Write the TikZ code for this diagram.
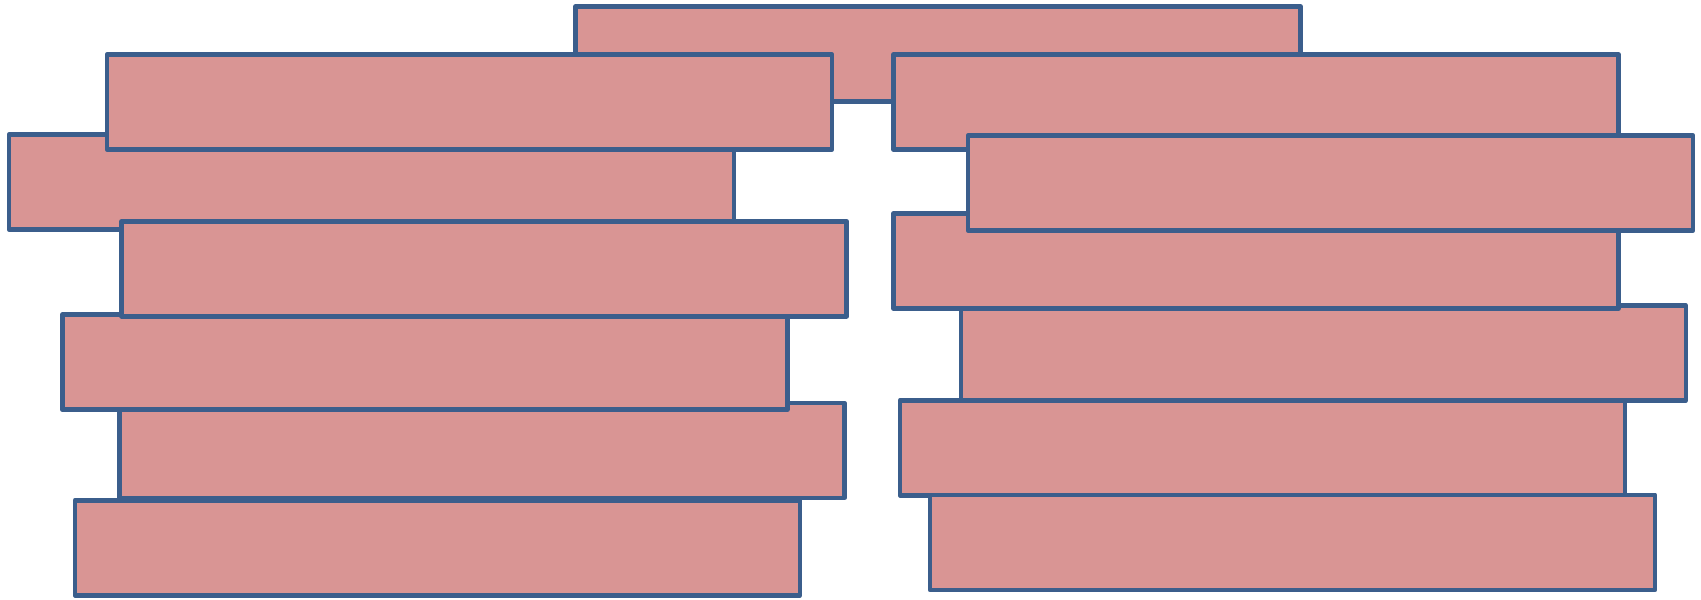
\documentclass[tikz,border=0pt]{standalone}
\begin{document}
\begin{tikzpicture}[x=1pt,y=-1pt,
  bar/.style={draw=barline, fill=barfill, line width=4.6pt, line join=round,
    rectangle, inner sep=0pt, minimum width=725pt, minimum height=95pt}]
\definecolor{barfill}{HTML}{D99594}
\definecolor{barline}{HTML}{3B5E8C}
\useasboundingbox (0,0) rectangle (1701,600);
\node[bar] (tc) at (938,54) {};
\node[bar] (l2) at (371.4,182) {};
\node[bar] (l1) at (469.6,102) {};
\node[bar] (l5) at (482,450.4) {};
\node[bar] (l4) at (424.7,362.2) {};
\node[bar] (l3) at (484.2,268.7) {};
\node[bar] (l6) at (437.5,547.7) {};
\node[bar] (r1) at (1256.2,102) {};
\node[bar] (r4) at (1323.3,353) {};
\node[bar] (r3) at (1256.2,261) {};
\node[bar] (r2) at (1330.6,183) {};
\node[bar] (r5) at (1262.5,447.7) {};
\node[bar] (r6) at (1292.5,542.4) {};
\end{tikzpicture}
\end{document}
